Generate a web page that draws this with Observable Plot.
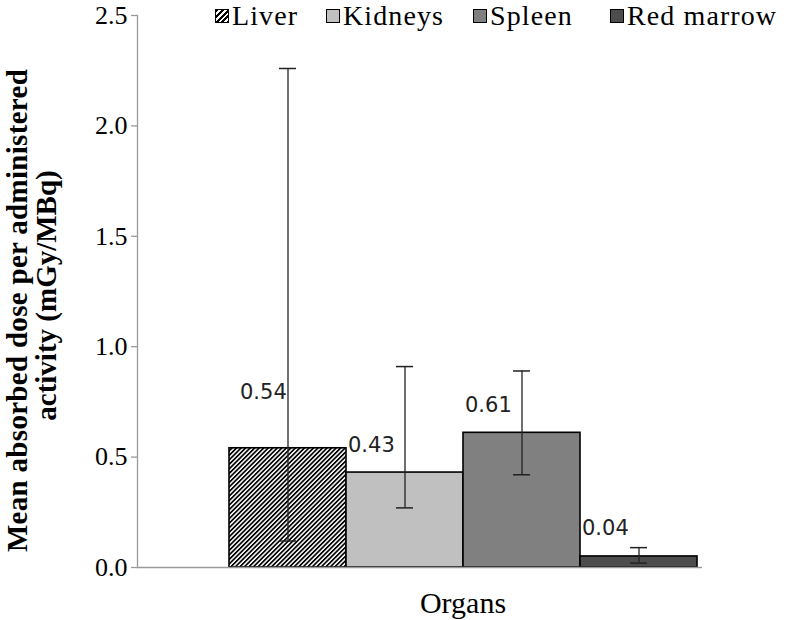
<!DOCTYPE html>
<html>
<head>
<meta charset="utf-8">
<script src="https://cdn.jsdelivr.net/npm/d3@7"></script>
<script src="https://cdn.jsdelivr.net/npm/@observablehq/plot@0.6"></script>
<style>
  body { margin: 0; background: #fff; }
  #wrap { position: relative; width: 787px; height: 620px; }
  #legend { position: absolute; top: 0; left: 0; width: 787px; height: 32px;
            font-family: "Liberation Serif", "Times New Roman", serif; font-size: 28px; color: #000; }
  .item { position: absolute; top: 2px; height: 28px; line-height: 28px; display: flex; align-items: center; letter-spacing: 1.1px; }
  .sw { width: 14px; height: 14px; border: 1px solid #000; margin-right: 3px; box-sizing: border-box; }
</style>
</head>
<body>
<div id="wrap"><div id="legend"></div></div>
<script>
const organs = ["Liver", "Kidneys", "Spleen", "Red marrow"];
const doses = [0.54, 0.43, 0.61, 0.05];
const doseLabels = ["0.54", "0.43", "0.61", "0.04"];
const errLow = [0.12, 0.27, 0.42, 0.02];
const errHigh = [2.26, 0.91, 0.89, 0.09];
const fills = ["url(#hatch)", "#c0c0c0", "#808080", "#4d4d4d"];
const yTicks = [0, 0.5, 1.0, 1.5, 2.0, 2.5];
const yTitleLine1 = "Mean absorbed dose per administered";
const yTitleLine2 = "activity (mGy/MBq)";
const xTitle = "Organs";

const data = organs.map((o, i) => ({organ: o, dose: doses[i], label: doseLabels[i], lo: errLow[i], hi: errHigh[i]}));

const serif = "'Liberation Serif', 'Times New Roman', serif";
const sans = "'DejaVu Sans', Verdana, sans-serif";

const plot = Plot.plot({
  width: 787,
  height: 620,
  marginLeft: 137,
  marginRight: 85,
  marginTop: 15,
  marginBottom: 53,
  style: {background: "#fff", color: "#000"},
  x: {domain: organs, range: [228, 698], padding: 0, axis: null},
  y: {domain: [0, 2.5], axis: null},
  color: {domain: organs, range: fills},
  marks: [
    Plot.frame({anchor: "left", stroke: "#9a9a9a", strokeWidth: 1.3}),
    Plot.axisY({ticks: yTicks, tickFormat: d => d.toFixed(1), tickSize: 6, tickPadding: 4,
      stroke: "#9a9a9a", strokeWidth: 1.3, fill: "#000", fontSize: 26, fontFamily: serif, label: null}),
    Plot.barY(data, {x: "organ", y: "dose", fill: "organ", stroke: "#000", strokeWidth: 1.6}),
    Plot.ruleY([0], {stroke: "#9a9a9a", strokeWidth: 1.3}),
    Plot.ruleX(data, {x: "organ", y1: "lo", y2: "hi", stroke: "#222", strokeWidth: 1.3}),
    Plot.tickY(data, {x: "organ", y: "hi", insetLeft: 50, insetRight: 50, stroke: "#222", strokeWidth: 1.5}),
    Plot.tickY(data, {x: "organ", y: "lo", insetLeft: 50, insetRight: 50, stroke: "#222", strokeWidth: 1.5}),
    Plot.text(data.filter(d => d.organ !== "Liver"), {x: "organ", y: "dose", text: "label", textAnchor: "start",
      lineAnchor: "bottom", dx: -57, dy: -21, fontSize: 21, fontFamily: sans, fill: "#222"}),
    Plot.text(data.filter(d => d.organ === "Liver"), {x: "organ", y: "dose", text: "label", textAnchor: "start",
      lineAnchor: "bottom", dx: -48, dy: -49, fontSize: 21, fontFamily: sans, fill: "#222"}),
    Plot.text([yTitleLine1], {frameAnchor: "left", rotate: -90, dx: -120, dy: 19, textAnchor: "middle", lineAnchor: "middle",
      fontSize: 29, fontWeight: "bold", fontFamily: serif, fill: "#000", style: "letter-spacing:0.3px"}),
    Plot.text([yTitleLine2], {frameAnchor: "left", rotate: -90, dx: -91, dy: 4, textAnchor: "middle", lineAnchor: "middle",
      fontSize: 29, fontWeight: "bold", fontFamily: serif, fill: "#000"}),
    Plot.text([xTitle], {frameAnchor: "bottom", dx: 43, dy: 36, lineAnchor: "middle",
      fontSize: 30, fontFamily: serif, fill: "#000"})
  ]
});

// letter spacing on the long title line
plot.querySelectorAll("text").forEach(t => {
  if (t.textContent === yTitleLine1) t.setAttribute("letter-spacing", "0.3");
});

// hatch pattern for liver
const ns = "http://www.w3.org/2000/svg";
const defs = document.createElementNS(ns, "defs");
defs.innerHTML = `<pattern id="hatch" patternUnits="userSpaceOnUse" width="3.2" height="3.2" patternTransform="rotate(45)">
  <rect width="3.2" height="3.2" fill="#fff"/>
  <rect x="0" y="0" width="1.7" height="3.2" fill="#000"/></pattern>`;
plot.insertBefore(defs, plot.firstChild);

document.getElementById("wrap").appendChild(plot);
plot.style.position = "absolute";
plot.style.left = "0";
plot.style.top = "0";

// legend
const legendPos = [215, 326, 473, 610];
const legend = document.getElementById("legend");
legend.style.zIndex = 2;
organs.forEach((o, i) => {
  const it = document.createElement("div");
  it.className = "item";
  it.style.left = legendPos[i] + "px";
  const sw = document.createElement("div");
  sw.className = "sw";
  sw.style.background = i === 0
    ? "repeating-linear-gradient(135deg, #000 0 2px, #fff 2px 4px)"
    : fills[i];
  const tx = document.createElement("span");
  tx.textContent = o;
  it.appendChild(sw);
  it.appendChild(tx);
  legend.appendChild(it);
});
</script>
</body>
</html>
